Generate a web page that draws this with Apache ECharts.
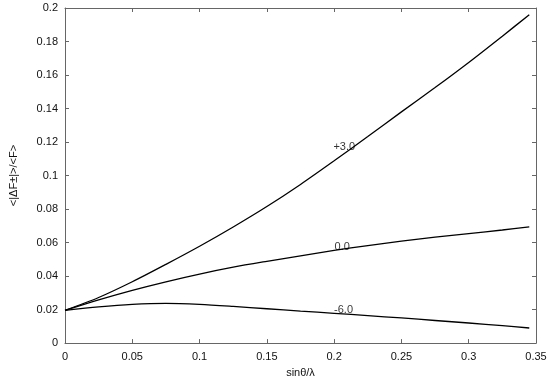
<!DOCTYPE html>
<html lang="en">
<head>
    <meta charset="UTF-8">
    <title>sinθ/λ</title>
    <script src="https://cdn.jsdelivr.net/npm/echarts@6/dist/echarts.min.js"></script>
    <style>
        html, body { margin: 0; padding: 0; background: #fff; }
        #main { width: 550px; height: 383px; }
    </style>
</head>
<body>
    <div id="main"></div>
    <script>
        // sinθ/λ sample points
        var xs = [0, 0.025, 0.05, 0.075, 0.1, 0.125, 0.15, 0.175, 0.2, 0.225, 0.25, 0.275, 0.3, 0.325, 0.345];
        // curves
        var plus3 = [0.0195, 0.0272, 0.0366, 0.047, 0.0578, 0.0693, 0.0815, 0.0947, 0.1088, 0.1233, 0.138, 0.1525, 0.1675, 0.1832, 0.196];
        var zero = [0.0195, 0.0258, 0.0315, 0.0366, 0.0412, 0.0453, 0.0488, 0.0521, 0.0553, 0.0582, 0.0608, 0.0632, 0.0654, 0.0675, 0.0694];
        var minus6 = [0.0195, 0.0216, 0.0231, 0.0237, 0.0231, 0.0219, 0.0205, 0.0191, 0.0178, 0.0164, 0.015, 0.0135, 0.012, 0.0104, 0.009];
        var curveNames = ['+3.0', '0.0', '-6.0'];
        var labelX = [0.2075, 0.206, 0.207];
        var labelY = [0.1171, 0.0576, 0.0200];

        function pts(ys) {
            return xs.map(function (x, i) { return [x, ys[i]]; });
        }

        var axisCol = '#666';
        var txt = { color: '#111', fontFamily: 'Liberation Sans', fontSize: 11 };

        var chart = echarts.init(document.getElementById('main'));
        var series = [plus3, zero, minus6].map(function (ys, i) {
            return {
                type: 'line',
                name: curveNames[i],
                data: pts(ys),
                smooth: 0.3,
                showSymbol: false,
                lineStyle: { color: '#000', width: 1.3 },
                silent: true
            };
        });
        series.push({
            type: 'scatter',
            symbolSize: 0,
            data: curveNames.map(function (n, i) { return { name: n, value: [labelX[i], labelY[i]] }; }),
            label: {
                show: true,
                position: 'inside',
                formatter: '{b}',
                color: '#000',
                fontFamily: 'Liberation Sans',
                fontSize: 11
            },
            silent: true
        });

        chart.setOption({
            animation: false,
            grid: { left: 62, right: 14, top: 8, bottom: 35 },
            xAxis: [{
                type: 'value', min: 0, max: 0.35, interval: 0.05,
                name: 'sinθ/λ', nameLocation: 'middle', nameGap: 22,
                nameTextStyle: txt,
                axisLine: { show: true, lineStyle: { color: axisCol, width: 1 } },
                axisTick: { show: true, inside: true, length: 4, lineStyle: { color: axisCol } },
                axisLabel: Object.assign({ margin: 8 }, txt),
                splitLine: { show: false }
            }, {
                type: 'value', min: 0, max: 0.35, interval: 0.05, position: 'top',
                axisLine: { show: true, onZero: false, lineStyle: { color: axisCol, width: 1 } },
                axisTick: { show: true, inside: true, length: 4, lineStyle: { color: axisCol } },
                axisLabel: { show: false },
                splitLine: { show: false }
            }],
            yAxis: [{
                type: 'value', min: 0, max: 0.2, interval: 0.02,
                name: '<|ΔF±|>/<F>', nameLocation: 'middle', nameGap: 46, nameRotate: 90,
                nameTextStyle: txt,
                axisLine: { show: true, lineStyle: { color: axisCol, width: 1 } },
                axisTick: { show: true, inside: true, length: 4, lineStyle: { color: axisCol } },
                axisLabel: Object.assign({ margin: 7 }, txt),
                splitLine: { show: false }
            }, {
                type: 'value', min: 0, max: 0.2, interval: 0.02, position: 'right',
                axisLine: { show: true, onZero: false, lineStyle: { color: axisCol, width: 1 } },
                axisTick: { show: true, inside: true, length: 4, lineStyle: { color: axisCol } },
                axisLabel: { show: false },
                splitLine: { show: false }
            }],
            series: series
        });
    </script>
</body>
</html>
